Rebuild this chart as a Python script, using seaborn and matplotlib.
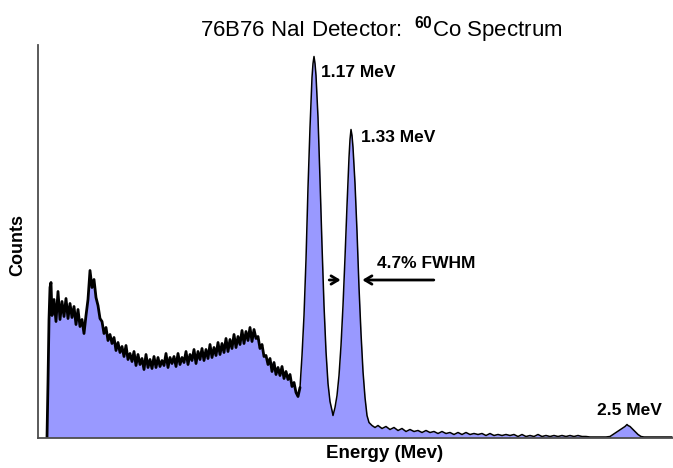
import numpy as np
import pandas as pd
import matplotlib
matplotlib.use("Agg")
import matplotlib.pyplot as plt
import seaborn as sns

# Spectrum: MCA channel -> counts (arbitrary units)
kev_per_channel = 4.23  # calibration from the 1.17 / 1.33 / 2.5 MeV peaks

# rising edge at low energy
ch_edge = [9, 10, 11, 12, 13]
cnt_edge = [0, 55, 118, 150, 155]

# backscatter peak + Compton continuum (every 2nd channel from 14)
cnt_compton = [122, 138, 116, 146, 118, 136, 121, 139, 119, 134,
               120, 131, 113, 128, 111, 118, 104, 122, 138, 167,
               150, 158, 140, 132, 119, 116, 104, 110, 97, 103,
               94, 100, 87, 95, 85, 91, 81, 92, 78, 84,
               76, 86, 72, 83, 73, 79, 68, 83, 70, 78,
               69, 81, 70, 80, 71, 77, 72, 84, 70, 80,
               74, 81, 71, 84, 73, 80, 75, 86, 73, 83,
               77, 88, 74, 86, 78, 89, 77, 88, 79, 93,
               80, 90, 82, 95, 83, 94, 85, 99, 86, 98,
               89, 103, 90, 101, 93, 107, 94, 106, 97, 110,
               96, 108, 99, 101, 89, 93, 81, 82, 73, 79,
               66, 75, 63, 70, 62, 71, 59, 66, 58, 63,
               51, 55, 45, 41, 50]
ch_compton = list(range(14, 14 + 2 * len(cnt_compton), 2))

# the two 60Co photopeaks
ch_peaks = [264, 266, 268, 270, 272, 274, 275, 276, 277, 278,
            280, 282, 284, 286, 288, 290, 292, 294, 295, 297,
            299, 301, 303, 305, 307, 309, 311, 312, 313, 314,
            315, 317, 319, 321, 323, 325, 327, 329, 331, 334, 337]
cnt_peaks = [82, 122, 178, 250, 310, 360, 374, 381, 374, 362,
             320, 258, 192, 132, 86, 54, 36, 27, 22, 30,
             42, 62, 92, 132, 180, 232, 280, 298, 308, 302,
             290, 254, 206, 150, 104, 66, 40, 22, 15, 12, 10]

# high-energy tail (every 4th channel from 340)
cnt_tail = [12, 9, 11, 8, 10, 7, 9, 6, 8, 6,
            7, 5, 7, 5, 6, 4, 6, 4, 5, 3,
            5, 3, 5, 3, 4, 3, 4, 2, 4, 2,
            3, 2, 3, 2, 3, 1, 3, 1, 2, 1,
            3, 1, 2, 1, 2, 1, 2, 1, 2, 1,
            2, 1, 1]
ch_tail = list(range(340, 340 + 4 * len(cnt_tail), 4))

# 2.5 MeV sum peak and the end of the spectrum
ch_sum = [552, 560, 568, 572, 575, 578, 581, 584, 587, 589,
          590, 592, 594, 597, 600, 603, 606, 615, 625, 634]
cnt_sum = [0.5, 0.5, 0.5, 1, 3, 5, 7, 9, 11, 13,
           12, 11, 9, 6, 3, 1, 0.5, 0.5, 0.5, 0.5]

df = pd.DataFrame({
    "channel": ch_edge + ch_compton + ch_peaks + ch_tail + ch_sum,
    "counts": cnt_edge + cnt_compton + cnt_peaks + cnt_tail + cnt_sum,
})
df["energy"] = df["channel"] * kev_per_channel / 1000.0
noisy = df["channel"] <= 262

sns.set_style("white")
plt.rcParams["font.family"] = ["Liberation Sans", "DejaVu Sans"]
plt.rcParams["mathtext.fontset"] = "custom"
plt.rcParams["mathtext.rm"] = "Liberation Sans"
plt.rcParams["mathtext.bf"] = "Liberation Sans:bold"
plt.rcParams["text.color"] = "black"
plt.rcParams["axes.labelcolor"] = "black"

fig = plt.figure(figsize=(6.73, 4.68), dpi=100)
ax = fig.add_axes([38 / 673, 1 - 437.5 / 468, 635 / 673, (437.5 - 45) / 468])

ax.fill_between(df["energy"], df["counts"], color="#9999ff", lw=0)
# noisy continuum drawn with a heavier trace, peaks and tail thinner
sns.lineplot(data=df[noisy], x="energy", y="counts", color="black", lw=2.0, ax=ax)
sns.lineplot(data=df[df["channel"] >= 262], x="energy", y="counts",
             color="black", lw=1.1, ax=ax)

ax.set_xlim(0, 2.686)
ax.set_ylim(0, 392.5)
ax.set_xticks([])
ax.set_yticks([])
for side in ["top", "right"]:
    ax.spines[side].set_visible(False)
for side in ["left", "bottom"]:
    ax.spines[side].set_color("#4d4d4d")
    ax.spines[side].set_linewidth(1.3)

ax.set_xlabel("Energy (Mev)", fontsize=13.5, fontweight="bold")
ax.xaxis.set_label_coords(0.545, -0.02)
ax.set_ylabel("Counts", fontsize=13, fontweight="bold")
ax.yaxis.set_label_coords(-0.018, 0.49)

fig.text(381 / 673, 1 - 30 / 468, r"76B76 NaI Detector:  $^{\mathbf{60}}$Co Spectrum",
         ha="center", va="center", fontsize=16)

lab = dict(fontsize=12.5, fontweight="bold", va="center")
ax.text(1.199, 365, "1.17 MeV", ha="left", **lab)
ax.text(1.368, 300, "1.33 MeV", ha="left", **lab)
ax.text(1.432, 174, "4.7% FWHM", ha="left", **lab)
ax.text(2.502, 27, "2.5 MeV", ha="center", **lab)

arr = dict(arrowstyle="->,head_length=0.5,head_width=0.3", color="black", lw=2)
ax.annotate("", xy=(1.292, 157.5), xytext=(1.220, 157.5), arrowprops=arr)
ax.annotate("", xy=(1.360, 157.5), xytext=(1.686, 157.5), arrowprops=arr)

fig.savefig("out.png", dpi=100)
